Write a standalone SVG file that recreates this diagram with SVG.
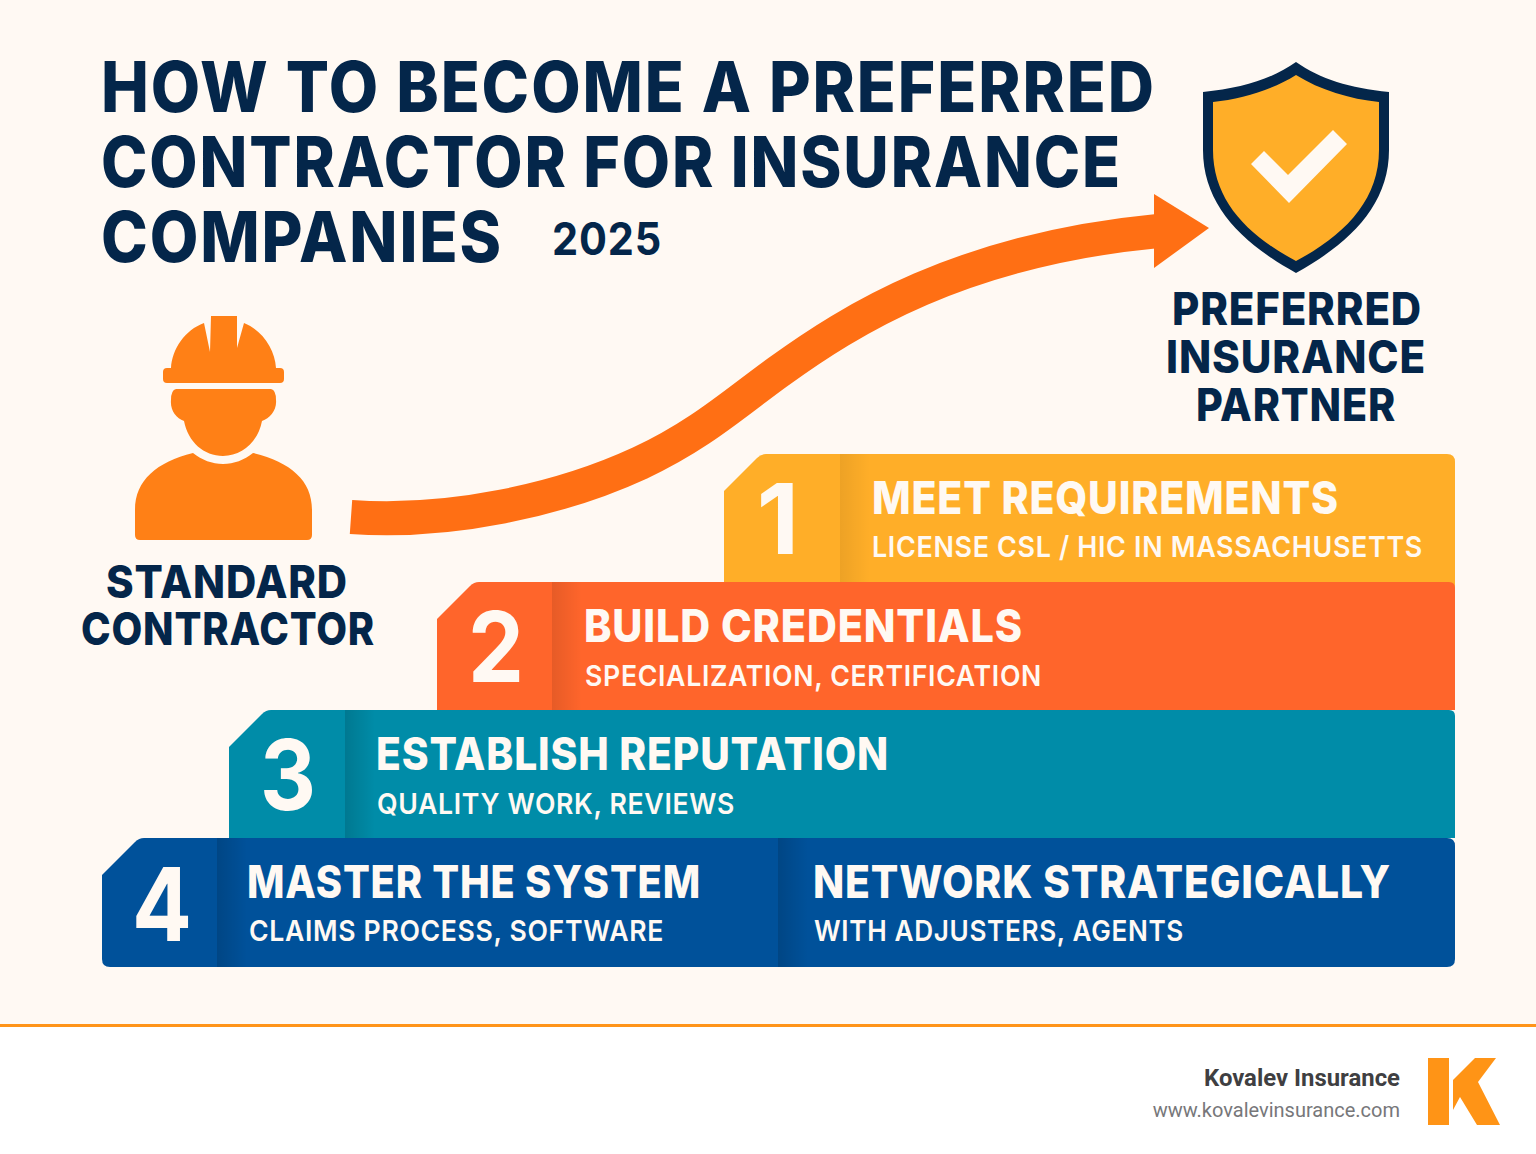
<svg xmlns="http://www.w3.org/2000/svg" width="1536" height="1154" viewBox="0 0 1536 1154">
<style>
text{font-family:Inter,"Liberation Sans",sans-serif}
.t{font-size:69.500px;font-weight:800;fill:#04264A;letter-spacing:.03em}
.l{font-size:45.500px;font-weight:800;fill:#04264A;text-anchor:middle;letter-spacing:.02em}
.n{font-size:98px;font-weight:700;fill:#FFF9F3;text-anchor:middle}
.h{font-size:45.500px;font-weight:800;fill:#FFF9F3;letter-spacing:.02em}
.s{font-size:29px;font-weight:600;fill:#FFF9F3;letter-spacing:.025em}
.o{fill:#FF8016}
.r{font-family:Roboto,sans-serif}
</style>
<defs>
<linearGradient id="sh"><stop offset="0" stop-color="#000" stop-opacity=".14"/><stop offset="1" stop-color="#000" stop-opacity="0"/></linearGradient>
<filter id="soft" x="-5%" y="-5%" width="110%" height="110%"><feGaussianBlur stdDeviation=".7"/></filter>
</defs>
<rect width="1536" height="1154" fill="#FFF9F3"/>
<rect y="1026" width="1536" height="128" fill="#FFFFFF"/>
<rect y="1024" width="1536" height="3" fill="#FF9419"/>
<g id="title">
<text class="t" x="101" y="112" textLength="1055" lengthAdjust="spacingAndGlyphs">HOW TO BECOME A PREFERRED</text>
<text class="t" x="101" y="187" textLength="1021" lengthAdjust="spacingAndGlyphs">CONTRACTOR FOR INSURANCE</text>
<text class="t" x="101" y="262" textLength="402" lengthAdjust="spacingAndGlyphs">COMPANIES</text>
<text x="552" y="255" font-size="45" font-weight="700" fill="#04264A" textLength="110" lengthAdjust="spacingAndGlyphs" style="letter-spacing:.02em">2025</text>
</g>
<g id="connectors">
<path d="M351 517C450 524 560 500 640 463C700 435 735 403 778 372C850 320 960 250 1158 231" fill="none" stroke="#FF6F14" stroke-width="34"/>
<path d="M1154 194L1209 228L1154 268Z" fill="#FF6F14"/>
</g>
<g id="standard-contractor">
<path class="o" d="M211 316H237V348L244 323C262 330 275 349 276 368H280Q284 368 284 372V379Q284 383 280 383H167Q163 383 163 379V372Q163 368 167 368H171C172 349 185 330 204 323L210 352Z"/>
<path class="o" d="M176 389H271Q276 390 276 400C277 410 270 418 262 421C258 442 242 456 223 456C204 456 188 442 184 421C176 418 170 410 171 400Q171 390 176 389Z"/>
<path class="o" d="M193 453C202 460 212 464 223 464C234 464 244 460 253 453C290 462 312 480 312 510V535Q312 540 307 540H140Q135 540 135 535V510C135 480 157 462 193 453Z"/>
<text class="l" x="227" y="598" textLength="242" lengthAdjust="spacingAndGlyphs">STANDARD</text>
<text class="l" x="228" y="645" textLength="294" lengthAdjust="spacingAndGlyphs">CONTRACTOR</text>
</g>
<g id="preferred-partner">
<path d="M1296 62C1320 79 1350 88 1389 92V150C1389 205 1350 243 1296 273C1242 243 1203 205 1203 150V92C1242 88 1272 79 1296 62Z" fill="#04264A"/>
<path d="M1296 75C1320 90 1350 99 1379 102V150C1379 200 1345 235 1296 261C1247 235 1213 200 1213 150V102C1242 99 1272 90 1296 75Z" fill="#FFAE28"/>
<path d="M1251 164L1264 151L1288 175L1333 130L1347 144L1289 203Z" fill="#FFF9F3"/>
<text class="l" x="1297" y="325" textLength="250" lengthAdjust="spacingAndGlyphs">PREFERRED</text>
<text class="l" x="1296" y="373" textLength="260" lengthAdjust="spacingAndGlyphs">INSURANCE</text>
<text class="l" x="1296" y="421" textLength="200" lengthAdjust="spacingAndGlyphs">PARTNER</text>
</g>
<g id="step-1">
<path d="M724 491L757 458Q761 454 766 454H1447Q1455 454 1455 462V590H724Z" fill="#FFAE28"/>
<rect x="840" y="454" width="30" height="128" fill="url(#sh)" opacity=".5"/>
<text class="n" x="778" y="554">1</text>
<text class="h" x="872" y="514" textLength="467" lengthAdjust="spacingAndGlyphs">MEET REQUIREMENTS</text>
<text class="s" x="872" y="557" textLength="551" lengthAdjust="spacingAndGlyphs">LICENSE CSL / HIC IN MASSACHUSETTS</text>
</g>
<g id="step-2">
<path d="M437 619L470 586Q474 582 479 582H1449Q1455 582 1455 588V710H437Z" fill="#FF652B"/>
<rect x="552" y="582" width="30" height="128" fill="url(#sh)" opacity=".7"/>
<text class="n" x="496" y="682" textLength="56" lengthAdjust="spacingAndGlyphs">2</text>
<text class="h" x="584" y="642" textLength="439" lengthAdjust="spacingAndGlyphs">BUILD CREDENTIALS</text>
<text class="s" x="585" y="686" textLength="457" lengthAdjust="spacingAndGlyphs">SPECIALIZATION, CERTIFICATION</text>
</g>
<g id="step-3">
<path d="M229 747L262 714Q266 710 271 710H1449Q1455 710 1455 716V838H229Z" fill="#008CA8"/>
<rect x="345" y="710" width="30" height="128" fill="url(#sh)"/>
<text class="n" x="288" y="810" textLength="56" lengthAdjust="spacingAndGlyphs">3</text>
<text class="h" x="376" y="770" textLength="513" lengthAdjust="spacingAndGlyphs">ESTABLISH REPUTATION</text>
<text class="s" x="377" y="814" textLength="358" lengthAdjust="spacingAndGlyphs">QUALITY WORK, REVIEWS</text>
</g>
<g id="step-4">
<path d="M102 875L135 842Q139 838 144 838H1447Q1455 838 1455 846V959Q1455 967 1447 967H110Q102 967 102 959Z" fill="#00519A"/>
<rect x="217" y="838" width="30" height="129" fill="url(#sh)"/>
<rect x="778" y="838" width="30" height="129" fill="url(#sh)"/>
<text class="n" x="162" y="941" textLength="60" lengthAdjust="spacingAndGlyphs" style="font-size:102px">4</text>
<text class="h" x="247" y="898" textLength="454" lengthAdjust="spacingAndGlyphs">MASTER THE SYSTEM</text>
<text class="s" x="249" y="941" textLength="415" lengthAdjust="spacingAndGlyphs">CLAIMS PROCESS, SOFTWARE</text>
<text class="h" x="813" y="898" textLength="578" lengthAdjust="spacingAndGlyphs">NETWORK STRATEGICALLY</text>
<text class="s" x="814" y="941" textLength="370" lengthAdjust="spacingAndGlyphs">WITH ADJUSTERS, AGENTS</text>
</g>
<g id="footer">
<text class="r" x="1400" y="1086" font-size="23.500" font-weight="700" fill="#3F3F42" text-anchor="end" textLength="196" lengthAdjust="spacingAndGlyphs">Kovalev Insurance</text>
<text class="r" x="1400" y="1117" font-size="20" fill="#77777A" text-anchor="end">www.kovalevinsurance.com</text>
<path d="M1428 1058H1449V1125H1428ZM1453 1080L1475 1058H1496L1478 1082L1500 1125H1477L1460 1097L1453 1110Z" fill="#FF9419" filter="url(#soft)"/>
</g>
</svg>
